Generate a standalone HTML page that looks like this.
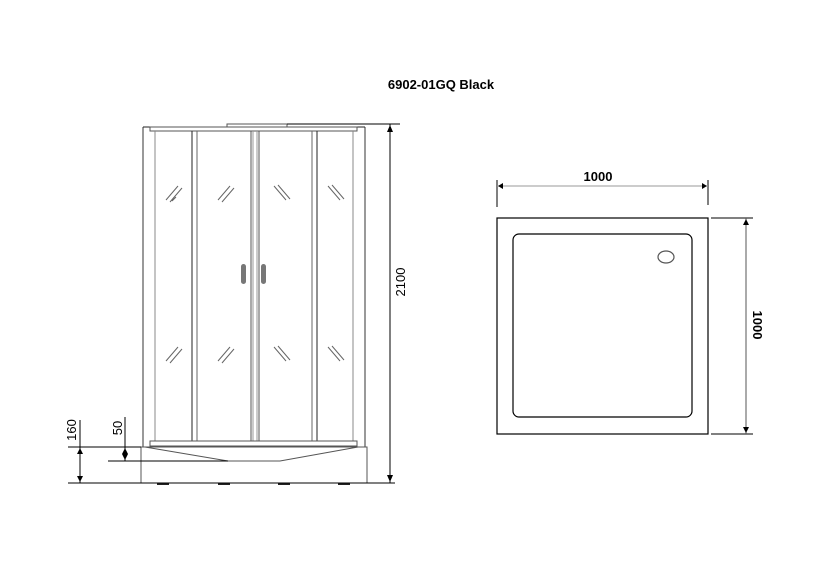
<!DOCTYPE html>
<html><head><meta charset="utf-8"><style>html,body{margin:0;padding:0;background:#fff}svg{display:block}</style></head>
<body>
<svg width="831" height="567" viewBox="0 0 831 567" xmlns="http://www.w3.org/2000/svg" font-family="Liberation Sans, sans-serif">
<text x="441" y="89" text-anchor="middle" font-size="13" font-weight="bold" fill="#000">6902-01GQ Black</text>
<!-- cabin -->
<g fill="none" stroke="#555" stroke-width="1">
<rect x="227" y="124" width="60" height="3" fill="#fff"/>
<line x1="143" y1="127" x2="143" y2="447" stroke="#333"/>
<line x1="365" y1="127" x2="365" y2="447" stroke="#333"/>
<line x1="143" y1="127" x2="365" y2="127" stroke="#222"/>
<rect x="150" y="127" width="207" height="4"/>
<line x1="155" y1="131" x2="155" y2="441" stroke="#888"/>
<line x1="353" y1="131" x2="353" y2="441" stroke="#888"/>
<line x1="192" y1="131" x2="192" y2="441" stroke="#222"/>
<line x1="197" y1="131" x2="197" y2="441" stroke="#666"/>
<line x1="251" y1="131" x2="251" y2="441" stroke="#555"/>
<line x1="253" y1="131" x2="253" y2="441" stroke="#999"/>
<line x1="257" y1="131" x2="257" y2="441" stroke="#999"/>
<line x1="259" y1="131" x2="259" y2="441" stroke="#555"/>
<line x1="312" y1="131" x2="312" y2="441" stroke="#666"/>
<line x1="317" y1="131" x2="317" y2="441" stroke="#222"/>
<rect x="150" y="441" width="207" height="5"/>
<rect x="141" y="447" width="226" height="36"/>
<path d="M145 447 L228 461 L280 461 L358 447"/>
</g>
<g fill="#222"><rect x="157" y="483" width="12" height="2"/><rect x="218" y="483" width="12" height="2"/><rect x="278" y="483" width="12" height="2"/><rect x="338" y="483" width="12" height="2"/></g>
<g fill="#777"><rect x="241" y="264" width="5" height="20" rx="2.5"/><rect x="261" y="264" width="5" height="20" rx="2.5"/></g>
<g stroke="#666" stroke-width="1">
<path d="M166 200 L178 186 M170 202 L182 188 M172 201 L176 197"/>
<path d="M218 200 L230 186 M222 202 L234 188"/>
<path d="M274 186 L286 200 M278 185 L290 199"/>
<path d="M328 186 L340 200 M332 185 L344 199"/>
<path d="M166 361 L178 347 M170 363 L182 349"/>
<path d="M218 361 L230 347 M222 363 L234 349"/>
<path d="M274 347 L286 361 M278 346 L290 360"/>
<path d="M328 347 L340 361 M332 346 L344 360"/>
</g>
<!-- dims left -->
<g stroke="#000" stroke-width="1" fill="none">
<line x1="68" y1="483" x2="395" y2="483"/>
<line x1="68" y1="447" x2="141" y2="447"/>
<line x1="108" y1="461" x2="228" y2="461"/>
<line x1="80" y1="420" x2="80" y2="483"/>
<line x1="125" y1="417" x2="125" y2="461"/>
<line x1="287" y1="124" x2="400" y2="124"/>
<line x1="390" y1="124" x2="390" y2="483"/>
</g>
<g fill="#000">
<path d="M80 448 l-3 6 h6z M80 482 l-3 -6 h6z"/>
<path d="M125 448 l-3 6 h6z M125 460 l-3 -6 h6z"/>
<path d="M390 125 l-3 7 h6z M390 482 l-3 -7 h6z"/>
</g>
<text transform="translate(76 430) rotate(-90)" text-anchor="middle" font-size="13" fill="#000">160</text>
<text transform="translate(122 428) rotate(-90)" text-anchor="middle" font-size="13" fill="#000">50</text>
<text transform="translate(405 282) rotate(-90)" text-anchor="middle" font-size="13" fill="#000">2100</text>
<!-- right plan -->
<g fill="none" stroke="#000" stroke-width="1.2">
<rect x="497" y="218" width="211" height="216"/>
<rect x="513" y="234" width="179" height="183" rx="6"/>
<ellipse cx="666" cy="257" rx="8" ry="6" stroke="#555"/>
</g>
<g stroke="#000" stroke-width="1">
<line x1="497" y1="180" x2="497" y2="207"/>
<line x1="708" y1="180" x2="708" y2="205"/>
<line x1="497" y1="186" x2="708" y2="186" stroke="#999"/>
<line x1="711" y1="218" x2="753" y2="218"/>
<line x1="711" y1="434" x2="753" y2="434"/>
<line x1="746" y1="218" x2="746" y2="434" stroke="#555"/>
</g>
<g fill="#000">
<path d="M498 186 l5 -3 v6z M707 186 l-5 -3 v6z"/>
<path d="M746 219 l-3 6 h6z M746 433 l-3 -6 h6z"/>
</g>
<text x="598" y="181" text-anchor="middle" font-size="13" font-weight="bold" fill="#000">1000</text>
<text transform="translate(753 325) rotate(90)" text-anchor="middle" font-size="13" font-weight="bold" fill="#000">1000</text>
</svg>
</body></html>
